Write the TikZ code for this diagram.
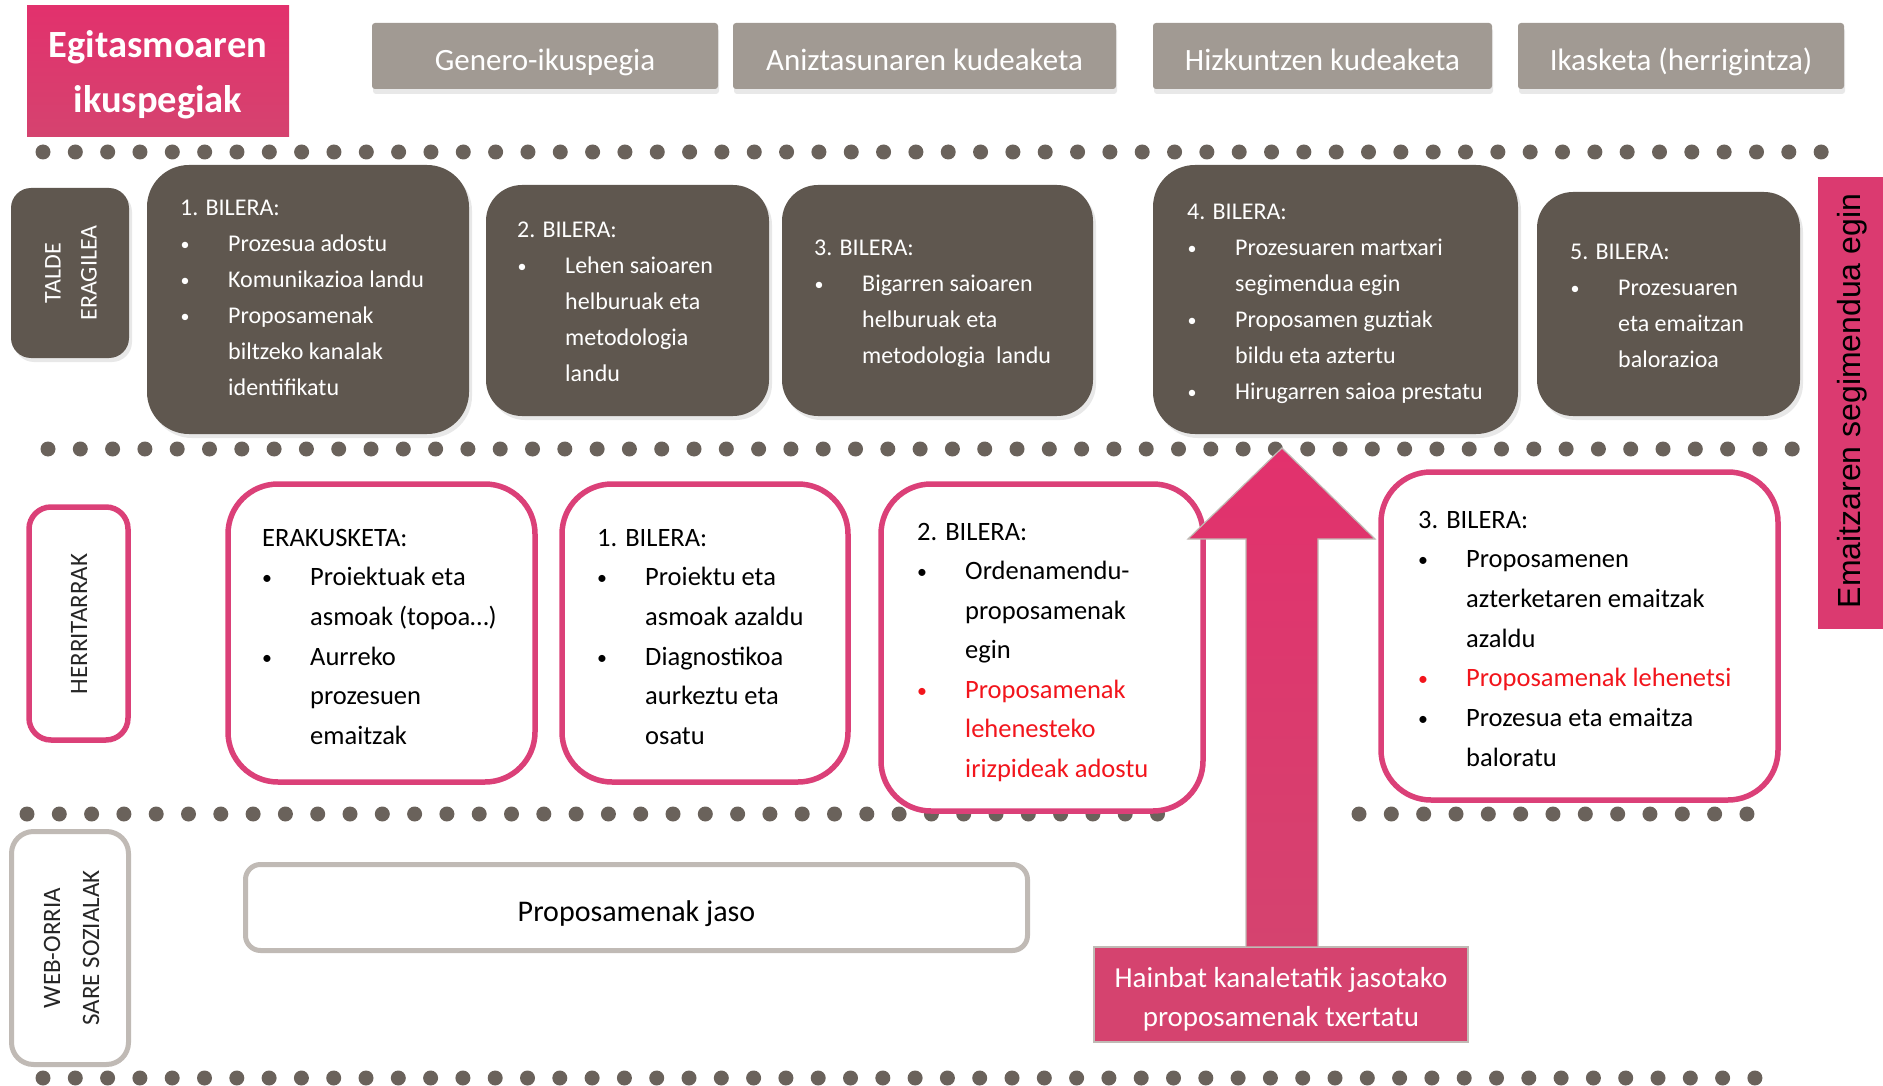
\documentclass[tikz,border=0pt]{standalone}
\usepackage{fontspec}
\setmainfont{Carlito}
\newfontfamily\arialf{Liberation Sans}
\usetikzlibrary{shadows,calc}

\definecolor{pinkA}{HTML}{E2316D}
\definecolor{pinkB}{HTML}{D5436F}
\definecolor{pinkline}{HTML}{DB4078}
\definecolor{pinkbar}{HTML}{DB3A70}
\definecolor{darkbox}{HTML}{5F574F}
\definecolor{graybox}{HTML}{A19A93}
\definecolor{dotc}{HTML}{6A625B}
\definecolor{lgray}{HTML}{C0BAB5}
\definecolor{redtxt}{HTML}{F2151C}
\definecolor{labtxt}{HTML}{262626}

\newcommand\fs[2]{\fontsize{#1pt}{#2pt}\selectfont}
\newcommand\smbul{\raisebox{1pt}{\scalebox{0.75}{•}}}

% #1 style, #2 prefix, #3 x, #4 first baseline, #5 line step, #6 list kind/text
\newcommand\tblock[6]{%
  \foreach \kk/\tx [count=\i from 0] in {#6}{%
    \pgfmathsetmacro\yy{#4+#5*\i}%
    \if h\kk
      \node[#1, anchor=base west] (#2-\i) at (#3,\yy) {\tx};%
    \fi
    \if b\kk
      \node[#1, anchor=base] (#2-p\i) at (#3+5,\yy) {\smbul};%
      \node[#1, anchor=base west] (#2-\i) at (#3+48,\yy) {\tx};%
    \fi
    \if c\kk
      \node[#1, anchor=base west] (#2-\i) at (#3+48,\yy) {\tx};%
    \fi
    \if r\kk
      \node[#1, text=redtxt, anchor=base] (#2-p\i) at (#3+5,\yy) {\smbul};%
      \node[#1, text=redtxt, anchor=base west] (#2-\i) at (#3+48,\yy) {\tx};%
    \fi
    \if s\kk
      \node[#1, text=redtxt, anchor=base west] (#2-\i) at (#3+48,\yy) {\tx};%
    \fi
  }}

\tikzset{
  dtxt/.style={text=white, font=\fs{24}{36}, inner sep=0pt},
  wtxt/.style={text=black, font=\fs{26.5}{40}, inner sep=0pt},
  darkbx/.style={fill=darkbox, draw=none, rounded corners=#1, inner sep=0pt,
    drop shadow={shadow xshift=3pt, shadow yshift=-4pt, opacity=0.18}},
  graybx/.style={fill=graybox, draw=none, rounded corners=3pt, inner sep=0pt,
    minimum height=66pt, drop shadow={shadow xshift=1pt, shadow yshift=-5pt, opacity=0.18}},
  pinkbx/.style={fill=white, draw=pinkline, line width=5.5pt, rounded corners=#1, inner sep=0pt},
  greybx/.style={fill=white, draw=lgray, line width=5pt, rounded corners=#1, inner sep=0pt},
  gtxt/.style={text=white, font=\fs{31}{36}, inner sep=0pt, anchor=base},
  labl/.style={rotate=90, align=center, inner sep=0pt},
}

\begin{document}
\begin{tikzpicture}[x=1pt, y=-1pt]
\useasboundingbox (0,0) rectangle (1883,1086);

% dotted rows
\foreach \i in {0,...,55} \fill[dotc] (43+32.33*\i,152) circle (7.5pt);
\foreach \i in {0,...,54} \fill[dotc] (48+32.3*\i,449) circle (7.5pt);
\foreach \i in {0,...,35} \fill[dotc] (27+32.3*\i,814) circle (7.5pt);
\foreach \i in {0,...,12} \fill[dotc] (1359+32.33*\i,814) circle (7.5pt);
\foreach \i in {0,...,53} \fill[dotc] (43+32.3*\i,1078) circle (7.5pt);

% title
\node[top color=pinkA, bottom color=pinkB, minimum width=262pt, minimum height=131pt, inner sep=0pt] (title) at (158,71.5) {};
\node[text=white, font=\bfseries\fs{38.5}{55}, inner sep=0pt, anchor=base] (title1) at (158,58) {Egitasmoaren};
\node[text=white, font=\bfseries\fs{38.5}{55}, inner sep=0pt, anchor=base] (title2) at (158,113) {ikuspegiak};

% top gray boxes
\node[graybx, minimum width=346pt] (g1) at (545,56) {};
\node[graybx, minimum width=383pt] (g2) at (924.5,56) {};
\node[graybx, minimum width=339pt] (g3) at (1322.5,56) {};
\node[graybx, minimum width=326pt] (g4) at (1681,56) {};
\node[gtxt] (g1t) at (545,71) {Genero-ikuspegia};
\node[gtxt] (g2t) at (924.5,71) {Aniztasunaren kudeaketa};
\node[gtxt] (g3t) at (1322.5,71) {Hizkuntzen kudeaketa};
\node[gtxt] (g4t) at (1681,71) {Ikasketa (herrigintza)};

% TALDE ERAGILEA row
\node[darkbx=20pt, minimum width=118pt, minimum height=170pt] (talde) at (70,273) {};
\node[labl, text=white, font=\fs{24}{36}] (taldet) at (71,273) {TALDE\\ERAGILEA};
\node[darkbx=42pt, minimum width=322pt, minimum height=269pt] (d1) at (308,299.5) {};
\node[darkbx=36pt, minimum width=283pt, minimum height=231pt] (d2) at (627.5,300.5) {};
\node[darkbx=36pt, minimum width=311pt, minimum height=231pt] (d3) at (937.5,300.5) {};
\node[darkbx=42pt, minimum width=365pt, minimum height=269pt] (d4) at (1335.5,299.5) {};
\node[darkbx=36pt, minimum width=263pt, minimum height=224pt] (d5) at (1668.5,304) {};

\tblock{dtxt}{t1}{180}{216}{35.8}{h/1. BILERA:,b/Prozesua adostu,b/Komunikazioa landu,b/Proposamenak,c/biltzeko kanalak,c/identifikatu}
\tblock{dtxt}{t2}{517}{238}{35.8}{h/2. BILERA:,b/Lehen saioaren,c/helburuak eta,c/metodologia,c/landu}
\tblock{dtxt}{t3}{814}{256}{35.8}{h/3. BILERA:,b/Bigarren saioaren,c/helburuak eta,c/metodologia\ \ landu}
\tblock{dtxt}{t4}{1187}{220}{35.8}{h/4. BILERA:,b/Prozesuaren martxari,c/segimendua egin,b/Proposamen guztiak,c/bildu eta aztertu,b/Hirugarren saioa prestatu}
\tblock{dtxt}{t5}{1570}{260}{35.8}{h/5. BILERA:,b/Prozesuaren,c/eta emaitzan,c/balorazioa}

% right bar
\node[fill=pinkbar, minimum width=65pt, minimum height=452pt, inner sep=0pt] (bar) at (1850.5,403) {};
\node[rotate=90, inner sep=0pt, text=black, font=\arialf\fs{32}{36}] (bart) at (1852,401) {Emaitzaren segimendua egin};

% HERRITARRAK row
\node[pinkbx=22pt, minimum width=99pt, minimum height=233pt] (herr) at (78.5,623.5) {};
\node[labl, text=labtxt, font=\fs{25}{36}] (herrt) at (79,624) {HERRITARRAK};
\node[pinkbx=50pt, minimum width=307pt, minimum height=298pt] (erak) at (381.5,633) {};
\node[pinkbx=50pt, minimum width=286pt, minimum height=298pt] (hb1) at (705,633) {};
\node[pinkbx=50pt, minimum width=322pt, minimum height=327pt] (hb2) at (1042,647.5) {};
\node[pinkbx=50pt, minimum width=397pt, minimum height=328pt] (hb3) at (1579.5,636) {};

\tblock{wtxt}{e}{262}{546}{39.7}{h/ERAKUSKETA:,b/Proiektuak eta,c/asmoak (topoa…),b/Aurreko,c/prozesuen,c/emaitzak}
\tblock{wtxt}{h1}{597}{546}{39.7}{h/1. BILERA:,b/Proiektu eta,c/asmoak azaldu,b/Diagnostikoa,c/aurkeztu eta,c/osatu}
\tblock{wtxt}{h2}{917}{540}{39.5}{h/2. BILERA:,b/Ordenamendu-,c/proposamenak,c/egin,r/Proposamenak,s/lehenesteko,s/irizpideak adostu}
\tblock{wtxt}{h3}{1418}{528}{39.7}{h/3. BILERA:,b/Proposamenen,c/azterketaren emaitzak,c/azaldu,r/Proposamenak lehenetsi,b/Prozesua eta emaitza,c/baloratu}

% WEB-ORRIA row
\node[greybx=22pt, minimum width=117pt, minimum height=233pt] (web) at (70,948) {};
\node[labl, text=labtxt, font=\fs{25}{39}] (webt) at (71.5,948) {WEB-ORRIA\\SARE SOZIALAK};
\node[greybx=15pt, minimum width=782pt, minimum height=86pt] (jaso) at (636.5,907.5) {};
\node[text=black, font=\fs{30}{36}, inner sep=0pt, anchor=base] (jasot) at (636.5,921) {Proposamenak jaso};

% arrow and source box
\node[fill=pinkB, draw=lgray, line width=1.2pt, minimum width=374pt, minimum height=95pt, inner sep=0pt] (hain) at (1281,994.5) {};
\node[text=white, font=\fs{29}{39}, inner sep=0pt, anchor=base] (hain1) at (1281,987) {Hainbat kanaletatik jasotako};
\node[text=white, font=\fs{29}{39}, inner sep=0pt, anchor=base] (hain2) at (1281,1026) {proposamenak txertatu};
\coordinate (atip) at (1282,448);
\path[top color=pinkA, bottom color=pinkB, draw=lgray, line width=1.2pt]
  ($(hain.north)+(-35,0)$) -- (1246,539) -- (1188,539) -- (atip) -- (1375,539) -- (1318,539) -- ($(hain.north)+(37,0)$);
\end{tikzpicture}
\end{document}
